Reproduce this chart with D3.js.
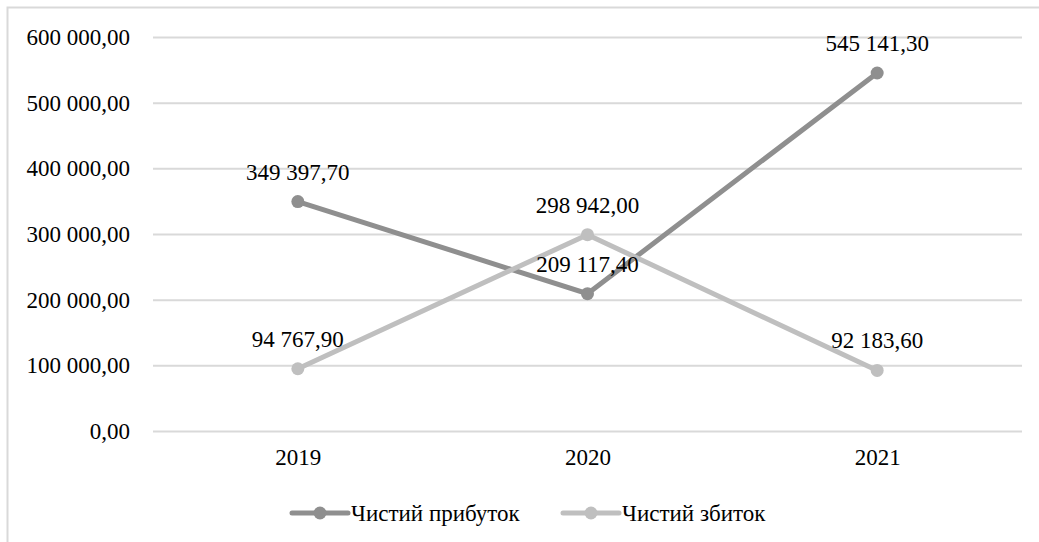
<!DOCTYPE html>
<html>
<head>
<meta charset="utf-8">
<script src="https://d3js.org/d3.v7.min.js"></script>
</head>
<body style="margin:0;background:#fff">
<svg id="chart" width="1039" height="542" style="display:block" font-family="Times New Roman, Liberation Serif, Tinos, serif"></svg>
<script>
const categories = ["2019", "2020", "2021"];
const seriesNames = ["Чистий прибуток", "Чистий збиток"];
const profitValues = [349397.70, 209117.40, 545141.30];
const lossValues = [94767.90, 298942.00, 92183.60];
const yTicks = [0, 100000, 200000, 300000, 400000, 500000, 600000];

const colors = ["#8f8f8f", "#bfbfbf"];
const series = [
  { name: seriesNames[0], values: profitValues, color: colors[0] },
  { name: seriesNames[1], values: lossValues, color: colors[1] }
];

const FONT = "Times New Roman, Liberation Serif, Tinos, serif";
const FS = 23;
const svg = d3.select("#chart");
const W = 1039, H = 542;
const plot = { left: 153, right: 1022, top: 37, bottom: 431 };

svg.append("rect")
  .attr("x", 7.5).attr("y", 7.5)
  .attr("width", W + 10).attr("height", H + 10)
  .attr("fill", "none").attr("stroke", "#d9d9d9").attr("stroke-width", 2);

const x = d3.scalePoint().domain(categories).range([plot.left, plot.right]).padding(0.5);
const y = d3.scaleLinear().domain([0, 600000]).range([plot.bottom, plot.top]);

const loc = d3.formatLocale({ decimal: ",", thousands: " ", grouping: [3], currency: ["", ""] });
const fmt = loc.format(",.2f");

const yAxis = d3.axisLeft(y).tickValues(yTicks).tickFormat(fmt)
  .tickSize(-(plot.right - plot.left)).tickPadding(23);
const gy = svg.append("g").attr("transform", `translate(${plot.left},0)`).call(yAxis);
gy.attr("font-family", FONT).attr("font-size", FS);
gy.select(".domain").remove();
gy.selectAll(".tick line").attr("stroke", "#d9d9d9").attr("stroke-width", 2);
gy.selectAll(".tick text").attr("fill", "#000").attr("font-family", FONT);

const xAxis = d3.axisBottom(x).tickSize(0).tickPadding(18);
const gx = svg.append("g").attr("transform", `translate(0,${plot.bottom})`).call(xAxis);
gx.attr("font-family", FONT).attr("font-size", FS);
gx.select(".domain").remove();
gx.selectAll(".tick text").attr("fill", "#000").attr("font-family", FONT);

const line = d3.line().x((d, i) => x(categories[i])).y(d => y(d));

series.forEach(s => {
  svg.append("path").datum(s.values)
    .attr("d", line).attr("fill", "none")
    .attr("stroke", s.color).attr("stroke-width", 5).attr("stroke-linecap", "round");
});
series.forEach(s => {
  svg.append("g").selectAll("circle").data(s.values).join("circle")
    .attr("cx", (d, i) => x(categories[i])).attr("cy", d => y(d)).attr("r", 6.5)
    .attr("fill", s.color);
});
series.forEach(s => {
  svg.append("g").selectAll("text").data(s.values).join("text")
    .attr("x", (d, i) => x(categories[i])).attr("y", d => y(d) - 22)
    .attr("text-anchor", "middle").attr("fill", "#000")
    .attr("font-family", FONT).attr("font-size", FS)
    .text(d => fmt(d));
});

const legendItems = [
  { x0: 292, s: series[0] },
  { x0: 563, s: series[1] }
];
const ly = 513;
legendItems.forEach(li => {
  const g = svg.append("g");
  g.append("line").attr("x1", li.x0).attr("x2", li.x0 + 56).attr("y1", ly).attr("y2", ly)
    .attr("stroke", li.s.color).attr("stroke-width", 5).attr("stroke-linecap", "round");
  g.append("circle").attr("cx", li.x0 + 28).attr("cy", ly).attr("r", 6.5).attr("fill", li.s.color);
  g.append("text").attr("x", li.x0 + 59).attr("y", ly + 8).attr("fill", "#000")
    .attr("font-family", FONT).attr("font-size", FS).text(li.s.name);
});
</script>
</body>
</html>
